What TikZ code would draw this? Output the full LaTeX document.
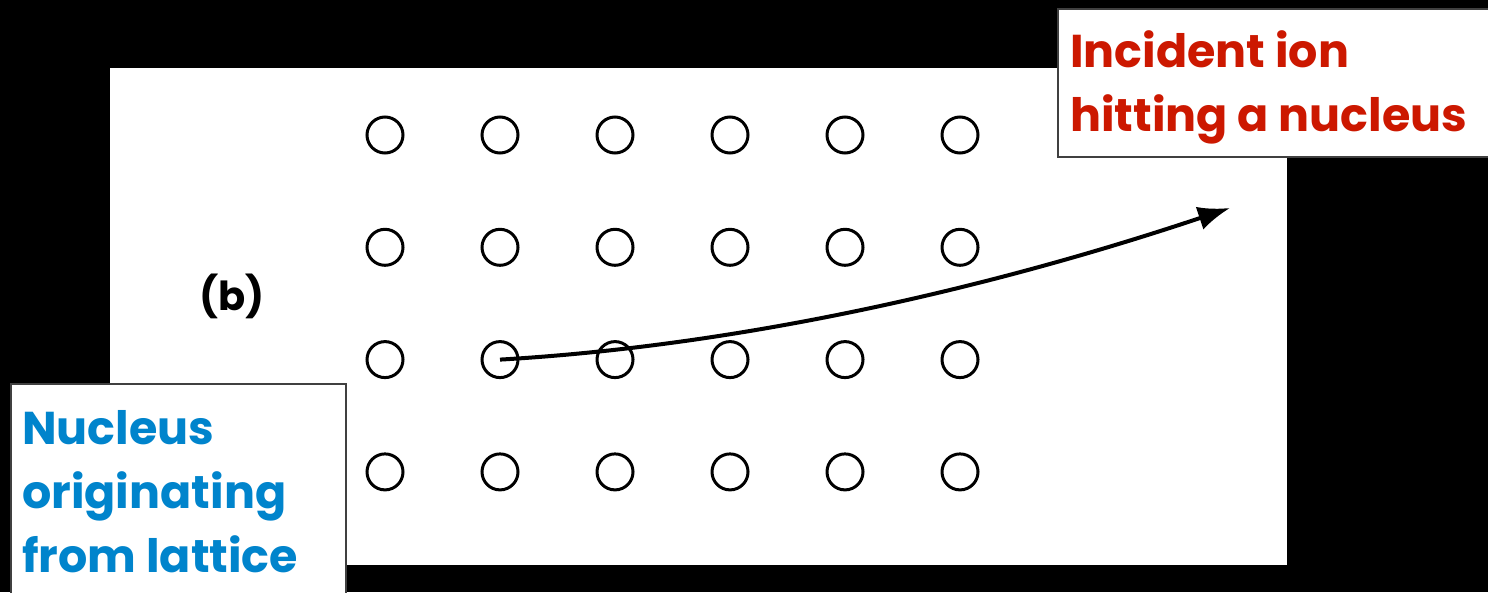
\documentclass[tikz,border=0pt]{standalone}
\usepackage{fontspec}
\setmainfont{Poppins}
\usetikzlibrary{arrows.meta}
\definecolor{ionred}{RGB}{204,24,0}
\definecolor{nucblue}{RGB}{0,132,204}
\tikzset{
  atom_node/.style = {circle, draw=black, line width=3pt,
    minimum size=36pt, inner sep=0pt},% noyau du reseau
  note_box/.style = {rectangle, fill=white, draw=black!75,
    line width=1.5pt, inner sep=0pt},% cadre des legendes
  note_text/.style = {anchor=base west, align=left, inner sep=0pt,
    font=\bfseries\fontsize{46}{64}\selectfont},% texte des legendes
  ion_path/.style = {line width=4pt, -{Latex[length=32pt,width=24pt]}}
}

\begin{document}
\begin{tikzpicture}[x=1pt, y=-1pt]
  \fill[black] (0,0) rectangle (1488,592);
  \useasboundingbox (0,0) rectangle (1488,592);
  \fill[white] (110,68) rectangle (1287,565);
  % reseau
  \foreach \c in {0,...,5}
    \foreach \r in {0,...,3}
      \node [atom_node] (a\c\r) at (385+115*\c, 135+112.3*\r) {};
  \node [font=\bfseries\fontsize{40}{48}\selectfont] (fig_b) at (232,296) {(b)};
  % trajectoire
  \coordinate (tip) at (1230,208);
  \draw [ion_path] (a12.center) .. controls (750,345) and (1000,285) .. (tip);
  % legendes
  \node [note_box, anchor=north west, minimum width=440pt,
    minimum height=148pt] (ion_box) at (1057,8) {};
  \node [note_text, text=ionred] (ion) at (1070,131)
    {Incident ion\\hitting a nucleus};
  \node [note_box, anchor=north west, minimum width=335pt,
    minimum height=220pt] (nuc_box) at (10,383) {};
  \node [note_text, text=nucblue] (nuc) at (22,572)
    {Nucleus\\originating\\from lattice};
\end{tikzpicture}
\end{document}
